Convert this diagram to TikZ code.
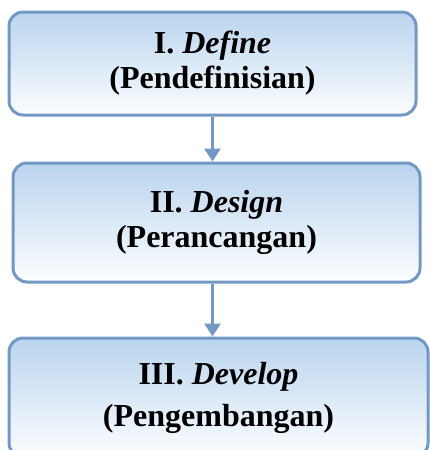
\documentclass[tikz,border=0pt]{standalone}
\usepackage{fontspec}
\setmainfont{Liberation Serif}
\usetikzlibrary{arrows.meta}

\definecolor{garis}{RGB}{114,152,196}
\definecolor{atas}{RGB}{186,212,238}
\tikzset{
  tahap/.style={draw=garis, line width=3pt, rounded corners=14pt,
    top color=atas, bottom color=white!96!atas,
    align=center, font=\bfseries\fontsize{32}{35}\selectfont},
  panah/.style={draw=garis, line width=3pt,
    -{Triangle[width=16pt,length=13pt]}}
}

\begin{document}
\begin{tikzpicture}[x=1pt,y=-1pt]
\useasboundingbox (0,0) rectangle (430,450);
\clip (0,0) rectangle (430,450);

\node[tahap, minimum width=407pt, minimum height=103pt] (define) at (212.5,63.5)
  {I. \textit{Define}\\(Pendefinisian)};

\node[tahap, minimum width=407pt, minimum height=119pt] (design) at (216.5,222.5)
  {II. \textit{Design}\\(Perancangan)};

\node[tahap, minimum width=419pt, minimum height=119pt] (develop) at (218.5,397.5)
  {III. \textit{Develop}\\[7pt](Pengembangan)};

\draw[panah] (define.south) -- (define.south |- design.north);
\draw[panah] (design.south -| define.south) -- (develop.north -| define.south);

\end{tikzpicture}
\end{document}
